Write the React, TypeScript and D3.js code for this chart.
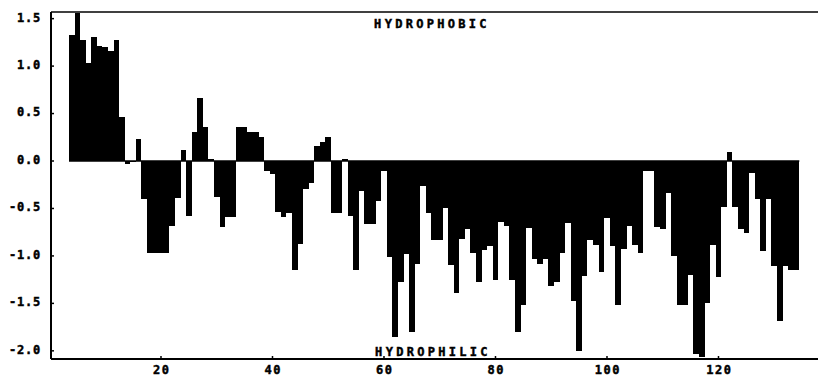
import React from 'react';
import * as d3 from 'd3';

// hydropathy value per residue, starting at residue 4
const firstResidue = 4;
const hydropathy = [
  1.33, 1.56, 1.27, 1.03, 1.31, 1.21, 1.2, 1.16, 1.27, 0.46,
  -0.03, -0.01, 0.23, -0.4, -0.97, -0.97, -0.97, -0.97, -0.68, -0.39,
  0.12, -0.58, 0.31, 0.66, 0.36, 0.02, -0.38, -0.7, -0.59, -0.59,
  0.36, 0.36, 0.31, 0.31, 0.25, -0.11, -0.14, -0.54, -0.59, -0.55,
  -1.15, -0.87, -0.29, -0.23, 0.16, 0.2, 0.25, -0.55, -0.55, 0.02,
  -0.58, -1.15, -0.32, -0.66, -0.66, -0.42, -0.11, -1.01, -1.85, -1.27,
  -0.98, -1.8, -1.09, -0.26, -0.55, -0.83, -0.83, -0.49, -1.1, -1.39,
  -0.82, -0.72, -0.97, -1.27, -0.94, -0.9, -1.25, -0.64, -0.68, -1.25,
  -1.8, -1.52, -0.71, -1.03, -1.08, -1.03, -1.32, -1.27, -0.97, -0.65,
  -1.47, -2.0, -1.21, -0.83, -0.88, -1.17, -0.6, -0.9, -1.52, -0.93,
  -0.68, -0.88, -0.97, -0.1, -0.1, -0.7, -0.72, -0.34, -1.0, -1.52,
  -1.52, -1.2, -2.03, -2.06, -1.5, -0.88, -1.22, -0.48, 0.1, -0.48,
  -0.72, -0.76, -0.13, -0.4, -0.95, -0.4, -1.11, -1.69, -1.11, -1.15,
  -1.15,
];
const yTicks = [1.5, 1.0, 0.5, 0.0, -0.5, -1.0, -1.5, -2.0];
const xTicks = [20, 40, 60, 80, 100, 120];

const width = 818;
const height = 377;
const font = "'DejaVu Sans Mono', monospace";

// heavy printer-style lettering
const labelStyle = {
  fontFamily: font,
  fontWeight: 'bold' as const,
  fontSize: 12,
  stroke: '#000',
  strokeWidth: 0.45,
};

const App = () => {
  const bars = hydropathy.map((value, i) => ({ residue: firstResidue + i, value }));

  const x = d3.scaleLinear().domain([0.27, 137.85]).range([51, 818]);
  const y = d3.scaleLinear().domain([-2.086, 1.57]).range([359, 12]);

  const lastResidue = firstResidue + hydropathy.length - 1;

  return (
    <svg
      width={width}
      height={height}
      style={{ position: 'absolute', left: 0, top: 0, background: '#fff' }}
    >
      <rect width={width} height={height} fill="#fff" />

      {/* bars */}
      <g shapeRendering="crispEdges">
        {bars.map(d => (
          <rect
            key={d.residue}
            x={x(d.residue - 0.5)}
            width={x(d.residue + 0.5) - x(d.residue - 0.5)}
            y={y(Math.max(0, d.value))}
            height={Math.abs(y(d.value) - y(0))}
            fill="#000"
          />
        ))}
      </g>

      {/* zero line */}
      <line
        x1={x(firstResidue - 0.5)}
        x2={x(lastResidue + 0.5)}
        y1={y(0)}
        y2={y(0)}
        stroke="#000"
        strokeWidth={1.5}
      />

      {/* frame */}
      <line x1={51} x2={818} y1={y(1.57)} y2={y(1.57)} stroke="#000" strokeWidth={1.5} />
      <line x1={51} x2={51} y1={y(1.57)} y2={y(-2.086)} stroke="#000" strokeWidth={2} />
      <line x1={51} x2={818} y1={y(-2.086)} y2={y(-2.086)} stroke="#000" strokeWidth={2} />

      {/* y axis */}
      {yTicks.map(t => (
        <g key={t}>
          <line x1={51} x2={54} y1={y(t)} y2={y(t)} stroke="#000" strokeWidth={1.5} />
          <text x={41} y={y(t) + 2.9} textAnchor="end" letterSpacing={0.8} style={labelStyle}>
            {t.toFixed(1)}
          </text>
        </g>
      ))}

      {/* x axis */}
      {xTicks.map(t => (
        <g key={t}>
          <line x1={x(t)} x2={x(t)} y1={356} y2={359} stroke="#000" strokeWidth={1.5} />
          <text x={x(t) + 0.8} y={374} textAnchor="middle" letterSpacing={1.5} style={labelStyle}>
            {t}
          </text>
        </g>
      ))}

      <text x={432} y={28} textAnchor="middle" letterSpacing={3.3} style={labelStyle}>
        HYDROPHOBIC
      </text>
      <text x={433} y={356} textAnchor="middle" letterSpacing={3.3} style={labelStyle}>
        HYDROPHILIC
      </text>
    </svg>
  );
};

export default App;
